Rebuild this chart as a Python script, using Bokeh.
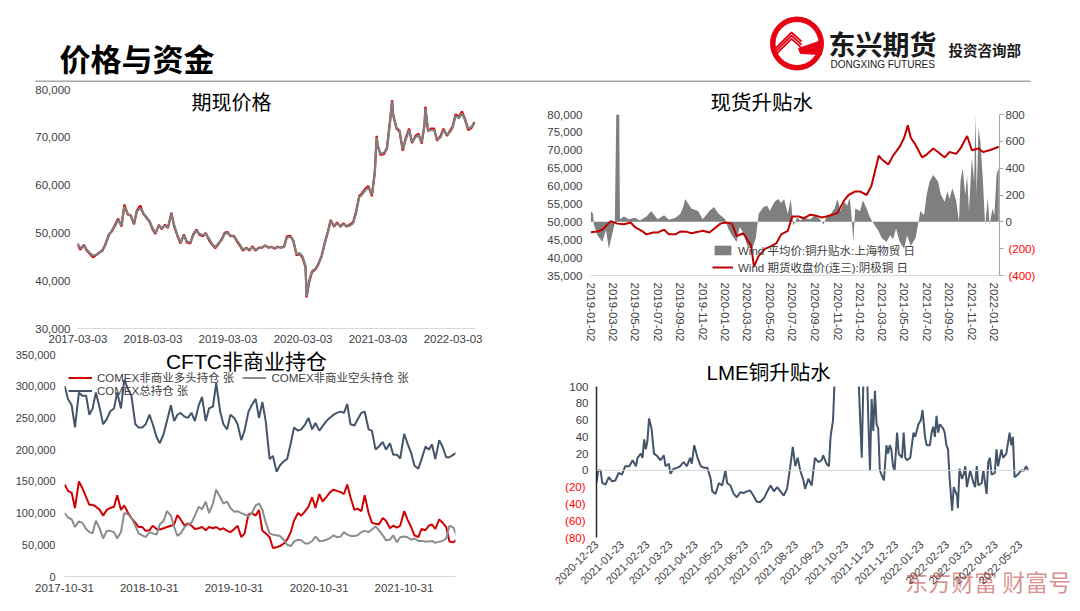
import pandas as pd
from bokeh.plotting import figure
from bokeh.layouts import column, row
from bokeh.models import (Range1d, FixedTicker, DatetimeTickFormatter, NumeralTickFormatter,
                          Label, Legend, LegendItem, LinearAxis, Span)
from bokeh.embed import file_html
from bokeh.resources import INLINE

NUM_FONT = "Liberation Sans, Noto Sans CJK SC"
CJK_FONT = "Noto Sans CJK SC"
TXT = "#404040"
NEG = "#FF0000"

# ---------------- data: 期现价格 (semi-monthly readings + extreme points) ----------------
tl_start = "2017-03-01"
tl_spot = [47800, 46800, 47300, 46500, 45800, 45200, 45500, 45800, 46500, 47500,
           49500, 50500, 51500, 52800, 51500, 55500, 54000, 53500, 52000, 54500,
           55200, 54200, 53000, 52500, 51000, 50000, 51500, 51000, 51500, 51200,
           54000, 51500, 49500, 48000, 49500, 48200, 48000, 49500, 50500, 49800,
           49500, 49800, 48800, 47800, 47000, 47800, 48500, 49800, 50000, 49500,
           49200, 48500, 47500, 46500, 46800, 46500, 47000, 46500, 46800, 47000,
           47300, 47000, 47000, 46800, 47000, 47000, 47000, 49000, 49200, 48500,
           45500, 45800, 45000, 43000, 40000, 42000, 42500, 43500, 45000, 47500,
           50000, 52500, 51500, 52000, 51500, 51800, 51500, 51500, 52000, 54000,
           57500, 58000, 59000, 59500, 58000, 62500, 68000, 66500, 66800, 67500,
           73500, 74500, 72000, 71500, 67500, 69500, 71500, 69000, 70000, 70500,
           69000, 72500, 71500, 71500, 71500, 69500, 70000, 71500, 70500, 71000,
           72000, 74500, 74000, 75000, 73500, 71800, 72200, 73000]
tl_fut = [47600, 46500, 47500, 46300, 45600, 44900, 45400, 45900, 46300, 47700,
          49700, 50300, 51800, 53000, 51300, 55900, 53800, 53700, 51800, 54700,
          55700, 54000, 53200, 52300, 50800, 49800, 51700, 50800, 51700, 51000,
          54200, 51300, 49300, 47800, 49700, 48000, 47800, 49700, 50700, 49600,
          49300, 50000, 48500, 47600, 46800, 47600, 48700, 50000, 50200, 49300,
          49400, 48300, 47300, 46300, 46900, 46300, 47200, 46300, 46900, 46900,
          47400, 46900, 47100, 46700, 47100, 46900, 47100, 49300, 49400, 48300,
          45300, 45600, 44700, 42800, 39600, 41800, 42300, 43300, 45200, 47700,
          50200, 52700, 51300, 52200, 51300, 52000, 51300, 51700, 52200, 54300,
          57700, 58300, 59300, 59800, 57700, 62800, 68300, 66300, 66500, 67800,
          73800, 74800, 71800, 71300, 67200, 69800, 71800, 68800, 70300, 70800,
          68700, 72800, 71300, 71800, 71800, 69300, 70300, 71800, 70300, 71300,
          72300, 74800, 74300, 75400, 73700, 71500, 72000, 73200]
tl_extra_dates = ["2020-03-20", "2021-02-24", "2021-05-10", "2021-10-19"]
tl_extra_spot = [36800, 70000, 77500, 76000]
tl_extra_fut = [36500, 70300, 77800, 76400]
tl_ticks = ["2017-03-03", "2018-03-03", "2019-03-03", "2020-03-03", "2021-03-03", "2022-03-03"]

# ---------------- data: 现货升贴水 ----------------
tr_fut = [("2019-01-02", 47100), ("2019-01-20", 47300), ("2019-02-02", 47800), ("2019-02-25", 50200),
          ("2019-03-15", 49500), ("2019-04-02", 49300), ("2019-04-20", 49800), ("2019-05-02", 48500),
          ("2019-05-20", 47500), ("2019-06-02", 46500), ("2019-06-20", 47000), ("2019-07-02", 47000),
          ("2019-07-20", 47800), ("2019-08-02", 46500), ("2019-08-20", 46500), ("2019-09-02", 47300),
          ("2019-09-20", 47200), ("2019-10-02", 46800), ("2019-10-20", 47200), ("2019-11-02", 47500),
          ("2019-11-20", 47000), ("2019-12-02", 48000), ("2019-12-20", 49500), ("2020-01-02", 49800),
          ("2020-01-20", 49500), ("2020-02-02", 46000), ("2020-02-20", 46800), ("2020-03-02", 45000),
          ("2020-03-12", 43500), ("2020-03-20", 37500), ("2020-04-02", 40500), ("2020-04-20", 42500),
          ("2020-05-02", 43000), ("2020-05-20", 44000), ("2020-06-02", 46500), ("2020-06-20", 47500),
          ("2020-07-02", 51500), ("2020-07-20", 51500), ("2020-08-02", 51000), ("2020-08-20", 52000),
          ("2020-09-02", 51800), ("2020-09-20", 51200), ("2020-10-02", 51500), ("2020-10-20", 52000),
          ("2020-11-02", 52500), ("2020-11-20", 56000), ("2020-12-02", 57500), ("2020-12-20", 58500),
          ("2021-01-02", 58500), ("2021-01-20", 57500), ("2021-02-02", 60000), ("2021-02-22", 68500),
          ("2021-03-02", 67500), ("2021-03-20", 66000), ("2021-04-02", 68500), ("2021-04-20", 71000),
          ("2021-05-02", 73500), ("2021-05-12", 77000), ("2021-05-20", 73500), ("2021-06-02", 71500),
          ("2021-06-20", 68000), ("2021-07-02", 68800), ("2021-07-20", 70500), ("2021-08-02", 69500),
          ("2021-08-20", 68000), ("2021-09-02", 69500), ("2021-09-20", 69000), ("2021-10-02", 70500),
          ("2021-10-20", 74000), ("2021-11-02", 70000), ("2021-11-20", 70500), ("2021-12-02", 69500),
          ("2021-12-20", 70000), ("2022-01-02", 70500), ("2022-01-14", 71000)]
tr_spread = [("2019-01-02", 80), ("2019-01-08", 60), ("2019-01-10", -20), ("2019-01-20", -100),
             ("2019-02-02", -150), ("2019-02-12", -60), ("2019-02-20", -200), ("2019-03-01", -90),
             ("2019-03-08", -10), ("2019-03-12", 800), ("2019-03-20", 800), ("2019-03-22", 20),
             ("2019-04-02", 40), ("2019-04-15", 20), ("2019-05-02", 30), ("2019-05-15", 10),
             ("2019-06-02", 40), ("2019-06-15", 80), ("2019-07-02", 20), ("2019-07-20", 50),
             ("2019-08-02", 15), ("2019-08-20", 30), ("2019-09-02", 60), ("2019-09-10", 110),
             ("2019-09-15", 170), ("2019-10-02", 100), ("2019-10-20", 80), ("2019-11-02", 20),
             ("2019-11-20", 80), ("2019-12-02", 110), ("2019-12-15", 60), ("2020-01-02", 20),
             ("2020-01-10", -50), ("2020-01-20", -100), ("2020-02-02", -150), ("2020-02-10", -40),
             ("2020-02-20", -80), ("2020-03-02", -180), ("2020-03-15", -200), ("2020-03-25", -120),
             ("2020-04-02", 60), ("2020-04-15", 110), ("2020-04-25", 120), ("2020-05-02", 80),
             ("2020-05-15", 150), ("2020-05-25", 170), ("2020-06-02", 140), ("2020-06-10", 170),
             ("2020-06-20", 60), ("2020-06-28", 170), ("2020-07-05", -30), ("2020-07-15", 30),
             ("2020-07-25", 10), ("2020-08-02", 30), ("2020-08-20", 20), ("2020-09-02", 50),
             ("2020-09-15", 20), ("2020-09-25", -20), ("2020-10-02", 30), ("2020-10-15", 60),
             ("2020-10-25", 100), ("2020-11-02", 170), ("2020-11-10", 80), ("2020-11-20", 150),
             ("2020-11-28", 120), ("2020-12-05", 180), ("2020-12-10", 50), ("2020-12-15", -150),
             ("2020-12-20", 100), ("2021-01-02", 80), ("2021-01-10", 160), ("2021-01-20", 100),
             ("2021-01-28", 40), ("2021-02-05", 0), ("2021-02-12", -30), ("2021-02-20", -60),
             ("2021-03-02", -120), ("2021-03-15", -150), ("2021-03-25", -100), ("2021-04-02", -130),
             ("2021-04-10", -50), ("2021-04-20", -150), ("2021-05-02", -200), ("2021-05-10", -100),
             ("2021-05-20", -180), ("2021-06-02", -120), ("2021-06-10", 0), ("2021-06-15", 80),
             ("2021-06-25", 50), ("2021-07-02", 200), ("2021-07-10", 300), ("2021-07-20", 350),
             ("2021-08-02", 300), ("2021-08-10", 200), ("2021-08-20", 150), ("2021-08-28", 230),
             ("2021-09-02", 170), ("2021-09-10", 250), ("2021-09-20", 160), ("2021-09-28", 0),
             ("2021-10-02", 300), ("2021-10-08", 400), ("2021-10-15", 200), ("2021-10-20", 350),
             ("2021-10-25", 80), ("2021-11-02", 480), ("2021-11-08", 300), ("2021-11-12", 800),
             ("2021-11-15", 200), ("2021-11-20", 700), ("2021-11-25", 600), ("2021-12-02", 300),
             ("2021-12-08", -30), ("2021-12-15", 180), ("2021-12-20", -20), ("2021-12-28", 100),
             ("2022-01-02", 50), ("2022-01-08", 350), ("2022-01-12", 390), ("2022-01-14", 400)]
tr_ticks = ["2019-01-02", "2019-03-02", "2019-05-02", "2019-07-02", "2019-09-02", "2019-11-02",
            "2020-01-02", "2020-03-02", "2020-05-02", "2020-07-02", "2020-09-02", "2020-11-02",
            "2021-01-02", "2021-03-02", "2021-05-02", "2021-07-02", "2021-09-02", "2021-11-02",
            "2022-01-02"]

# ---------------- data: CFTC非商业持仓 (semi-monthly readings) ----------------
cf_start = "2017-11-01"
cf_total = [300000, 280000, 270000, 235000, 290000, 285000, 285000, 255000, 265000, 290000,
            265000, 240000, 248000, 260000, 265000, 290000, 265000, 310000, 295000, 285000,
            240000, 235000, 235000, 240000, 255000, 240000, 220000, 210000, 225000, 245000,
            270000, 245000, 255000, 258000, 252000, 250000, 258000, 245000, 270000, 283000,
            245000, 265000, 268000, 305000, 260000, 240000, 232000, 255000, 250000, 240000,
            215000, 230000, 260000, 270000, 280000, 250000, 275000, 245000, 185000, 190000,
            165000, 175000, 182000, 185000, 210000, 235000, 230000, 232000, 240000, 250000,
            232000, 242000, 230000, 237000, 245000, 250000, 255000, 258000, 260000, 258000,
            272000, 240000, 238000, 248000, 258000, 260000, 232000, 230000, 200000, 205000,
            212000, 200000, 210000, 192000, 192000, 186000, 225000, 210000, 195000, 175000,
            170000, 185000, 205000, 200000, 208000, 185000, 215000, 205000, 188000, 188000,
            192000, 195000]
cf_long = [145000, 135000, 132000, 108000, 150000, 140000, 125000, 113000, 113000, 110000,
           105000, 96000, 105000, 108000, 110000, 128000, 105000, 112000, 100000, 92000,
           85000, 78000, 78000, 72000, 73000, 80000, 75000, 74000, 76000, 78000,
           80000, 82000, 97000, 90000, 80000, 84000, 80000, 75000, 76000, 78000,
           73000, 78000, 76000, 78000, 74000, 76000, 72000, 70000, 75000, 80000,
           62000, 68000, 98000, 100000, 96000, 105000, 72000, 68000, 62000, 45000,
           46000, 48000, 52000, 58000, 70000, 88000, 100000, 96000, 103000, 110000,
           125000, 108000, 130000, 118000, 125000, 132000, 137000, 135000, 133000, 130000,
           145000, 125000, 105000, 107000, 103000, 128000, 100000, 85000, 83000, 82000,
           92000, 88000, 76000, 80000, 77000, 80000, 103000, 90000, 78000, 65000,
           62000, 75000, 73000, 80000, 82000, 75000, 90000, 85000, 78000, 55000,
           54000, 58000]
cf_short = [100000, 93000, 90000, 78000, 87000, 85000, 75000, 70000, 68000, 88000,
            75000, 60000, 72000, 72000, 70000, 60000, 70000, 100000, 98000, 92000,
            80000, 68000, 65000, 62000, 70000, 68000, 66000, 82000, 88000, 103000,
            96000, 78000, 64000, 68000, 78000, 82000, 85000, 96000, 110000, 106000,
            118000, 100000, 115000, 137000, 125000, 115000, 118000, 108000, 102000, 103000,
            100000, 98000, 95000, 100000, 112000, 115000, 105000, 85000, 68000, 66000,
            65000, 64000, 58000, 50000, 48000, 55000, 58000, 57000, 52000, 52000,
            56000, 63000, 56000, 56000, 58000, 60000, 65000, 62000, 63000, 70000,
            66000, 64000, 64000, 65000, 70000, 72000, 70000, 74000, 79000, 73000,
            65000, 57000, 58000, 65000, 54000, 62000, 63000, 62000, 58000, 60000,
            56000, 56000, 55000, 55000, 56000, 53000, 55000, 56000, 60000, 80000,
            77000, 65000]
cf_ticks = ["2017-10-31", "2018-10-31", "2019-10-31", "2020-10-31", "2021-10-31"]

# ---------------- data: LME铜升贴水 (day offset from 2020-12-22, value) ----------------
lme_base = "2020-12-22"
lme_points = [(1, -15), (3, 0), (6, 0), (8, -15), (12, -17), (16, -8), (20, -13), (24, -12), (28, -3),
              (32, -5), (36, 5), (41, 5), (45, 12), (49, 5), (51, 15), (55, 20), (57, 15), (59, 37),
              (61, 25), (63, 35), (65, 62), (68, 50), (71, 20), (75, 17), (79, 12), (83, 18), (85, 5),
              (89, 8), (91, -4), (95, 2), (99, 3), (103, 5), (107, 10), (111, 5), (115, 15), (117, 8),
              (120, 30), (124, 15), (128, 5), (132, 3), (136, 3), (140, -10), (142, -25), (146, -28),
              (150, -15), (154, -18), (158, 0), (160, -15), (164, -18), (168, -28), (172, -32),
              (176, -26), (180, -27), (184, -25), (188, -24), (192, -30), (196, -37), (200, -38),
              (205, -33), (209, -25), (213, -18), (217, -25), (221, -20), (225, -25), (229, -30),
              (233, -22), (237, 5), (240, 28), (243, 5), (246, 15), (249, 0), (253, -12), (255, -22),
              (259, -10), (263, -18), (267, 15), (271, 10), (275, 12), (277, 18), (281, 8), (284, 5),
              (286, 40), (289, 60), (291, 110), (298, 180), (306, 400), (314, 250), (320, 110),
              (324, 15), (326, 110), (330, 130), (332, 60), (334, 0), (336, 85), (338, 47), (340, 95),
              (342, 55), (344, 50), (346, 0), (348, -5), (351, -12), (354, 30), (356, 20), (358, 30),
              (360, 25), (362, 5), (364, 0), (367, 45), (369, 20), (373, 15), (375, 45), (377, 15),
              (379, 12), (383, 15), (387, 45), (389, 40), (393, 55), (396, 60), (398, 72), (401, 40),
              (403, 30), (407, 30), (409, 45), (411, 52), (413, 40), (415, 65), (417, 45), (419, 55),
              (423, 50), (425, 45), (427, 30), (429, 25), (431, -10), (434, -48), (436, -20),
              (440, -30), (441, -45), (443, 2), (446, -10), (448, -5), (450, 5), (452, -20),
              (454, -10), (456, 0), (460, -15), (462, -20), (464, 5), (466, -18), (470, -15),
              (472, 0), (476, -28), (478, 10), (480, 15), (482, -5), (486, -3), (488, 25), (490, 5),
              (494, 25), (496, 15), (500, 20), (504, 45), (506, 30), (508, 40), (510, -8), (514, -5),
              (518, 0), (522, 0), (524, 5), (527, 0)]
lme_ticks = ["2020-12-23", "2021-01-23", "2021-02-23", "2021-03-23", "2021-04-23", "2021-05-23",
             "2021-06-23", "2021-07-23", "2021-08-23", "2021-09-23", "2021-10-23", "2021-11-23",
             "2021-12-23", "2022-01-23", "2022-02-23", "2022-03-23", "2022-04-23", "2022-05-23"]
watermark = "东方财富 财富号"


def ms(s):
    return pd.Timestamp(s).value / 1e6


def dfmt():
    f = "%Y-%m-%d"
    return DatetimeTickFormatter(milliseconds=f, seconds=f, minsec=f, minutes=f, hourmin=f,
                                 hours=f, days=f, months=f, years=f)


def base(w, h, xr, yr, l, r, t, b):
    p = figure(width=w, height=h, x_axis_type="datetime", x_range=xr, y_range=yr,
               output_backend="svg", toolbar_location=None,
               min_border_left=l, min_border_right=r, min_border_top=t, min_border_bottom=b)
    p.grid.visible = False
    p.outline_line_color = None
    p.background_fill_color = "white"
    p.border_fill_color = "white"
    if hasattr(p, "frame_align"):
        p.frame_align = False
    return p


def style_ax(ax, size="11.5px", color=TXT):
    ax.major_label_text_font = NUM_FONT
    ax.major_label_text_font_size = size
    ax.major_label_text_color = color
    ax.major_tick_line_color = None
    ax.minor_tick_line_color = None
    ax.major_tick_in = 0
    ax.major_tick_out = 0
    ax.minor_tick_in = 0
    ax.minor_tick_out = 0
    ax.axis_line_color = None


def inner_title(p, x, y, text, yoff, size="20px"):
    p.add_layout(Label(x=ms(x), y=y, y_offset=yoff, text=text, text_align="center",
                       text_baseline="middle", text_font=NUM_FONT, text_font_size=size,
                       text_color="#000000"))


def top_title(p, text, offset, standoff, size="20.5px"):
    p.title.text = text
    p.title.align = "left"
    p.title.offset = offset
    p.title.standoff = standoff
    p.title.text_font = NUM_FONT
    p.title.text_font_size = size
    p.title.text_font_style = "normal"
    p.title.text_color = "#000000"


# ---------------- header ----------------
hdr = figure(width=1080, height=82, x_range=Range1d(0, 1080), y_range=Range1d(82, 0),
             x_axis_type=None, y_axis_type=None, output_backend="svg", toolbar_location=None,
             min_border=0)
hdr.grid.visible = False
hdr.outline_line_color = None
hdr.add_layout(Label(x=59, y=57, text="价格与资金", text_font=CJK_FONT, text_font_size="31px",
                     text_font_style="bold", text_baseline="middle", text_color="#000000"))
hdr.line(x=[35, 1030], y=[81, 81], line_color="#a6a6a6", line_width=2)
hdr.annulus(x=[796.5], y=[43], inner_radius=22, outer_radius=26.5, color="#E60012")
for k in range(3):
    hdr.line(x=[774, 791, 801], y=[49 + 3.2 * k, 32 + 3.2 * k, 41 + 3.2 * k],
             line_color="#E60012", line_width=1.8)
hdr.patch(x=[798, 821, 821, 800], y=[48, 40, 54, 53], color="#E60012")
hdr.add_layout(Label(x=828, y=43, text="东兴期货", text_font=CJK_FONT, text_font_size="27px",
                     text_font_style="bold", text_baseline="middle", text_color="#1a1a1a"))
hdr.add_layout(Label(x=830, y=64, text="DONGXING FUTURES", text_font="Liberation Sans",
                     text_font_size="10px", text_baseline="middle", text_color="#1a1a1a"))
hdr.add_layout(Label(x=948, y=49, text="投资咨询部", text_font=CJK_FONT, text_font_size="14.5px",
                     text_font_style="bold", text_baseline="middle", text_color="#1a1a1a"))

# ---------------- 期现价格 ----------------
tl_df = pd.DataFrame({"date": list(pd.date_range(tl_start, periods=len(tl_spot), freq="SMS")),
                      "spot": tl_spot, "fut": tl_fut})
tl_df = pd.concat([tl_df, pd.DataFrame({"date": pd.to_datetime(tl_extra_dates),
                                        "spot": tl_extra_spot, "fut": tl_extra_fut})])
tl_df = tl_df.sort_values("date")
tl = base(530, 266, Range1d(ms("2017-03-01"), ms("2022-06-20")), Range1d(30000, 80000), 77, 55, 7, 20)
tl.line(tl_df["date"], tl_df["fut"], line_color="#E00000", line_width=2.2)
tl.line(tl_df["date"], tl_df["spot"], line_color="#7F7F7F", line_width=2.2)
style_ax(tl.xaxis[0])
style_ax(tl.yaxis[0])
tl.xaxis.axis_line_color = "#d9d9d9"
tl.xaxis.ticker = FixedTicker(ticks=[ms(d) for d in tl_ticks])
tl.xaxis.formatter = dfmt()
tl.xaxis.major_label_standoff = 6
tl.yaxis.ticker = FixedTicker(ticks=[30000, 40000, 50000, 60000, 70000, 80000])
tl.yaxis.formatter = NumeralTickFormatter(format="0,0")
tl.yaxis.major_label_standoff = 7
inner_title(tl, "2019-03-20", 80000, "期现价格", -13.5)

# ---------------- 现货升贴水 ----------------
trf = pd.DataFrame(tr_fut, columns=["date", "v"])
trf["date"] = pd.to_datetime(trf["date"])
trs = pd.DataFrame(tr_spread, columns=["date", "v"])
trs["date"] = pd.to_datetime(trs["date"])
tr = base(550, 266, Range1d(ms("2019-01-01"), ms("2022-01-16")), Range1d(35000, 80000), 60, 81, 32, 73)
tr.extra_y_ranges = {"sp": Range1d(-400, 800)}
area = tr.varea(x=trs["date"], y1=0, y2=trs["v"], y_range_name="sp", fill_color="#7F7F7F")
rline = tr.line(trf["date"], trf["v"], line_color="#C00000", line_width=2)
style_ax(tr.xaxis[0], "11.5px")
style_ax(tr.left[0])
tr.xaxis.axis_line_color = "#d9d9d9"
tr.xaxis.ticker = FixedTicker(ticks=[ms(d) for d in tr_ticks])
tr.xaxis.formatter = dfmt()
tr.xaxis.major_label_orientation = "vertical"
tr.xaxis.major_label_standoff = 7
tr.left[0].ticker = FixedTicker(ticks=list(range(35000, 80001, 5000)))
tr.left[0].formatter = NumeralTickFormatter(format="0,0")
tr.left[0].major_label_standoff = 8
# right axis: positive labels dark, negative labels red on an overlaid second axis
ra = LinearAxis(y_range_name="sp", ticker=FixedTicker(ticks=[-400, -200, 0, 200, 400, 600, 800]),
                major_label_overrides={-400: "", -200: ""})
style_ax(ra)
ra.axis_line_color = "#a6a6a6"
ra.major_tick_line_color = "#a6a6a6"
ra.major_tick_out = 4
ra.major_label_standoff = 2
tr.add_layout(ra, "right")
ra2 = LinearAxis(y_range_name="sp", ticker=FixedTicker(ticks=[-400, -200]),
                 major_label_overrides={-400: "(400)", -200: "(200)"})
style_ax(ra2, color=NEG)
ra2.major_label_standoff = -19
tr.add_layout(ra2, "right")
tr_leg = Legend(items=[LegendItem(label="Wind 平均价:铜升贴水:上海物贸 日", renderers=[area]),
                       LegendItem(label="Wind 期货收盘价(连三):阴极铜 日", renderers=[rline])],
                location=(122, 0), orientation="vertical", label_text_font=NUM_FONT,
                label_text_font_size="11.5px", label_text_color=TXT, glyph_width=21, glyph_height=12,
                label_height=12, spacing=1, padding=0, margin=0, label_standoff=5,
                background_fill_alpha=0, border_line_alpha=0)
tr.add_layout(tr_leg)
top_title(tr, "现货升贴水", 120, 2)

# ---------------- CFTC非商业持仓 ----------------
cf_dates = list(pd.date_range(cf_start, periods=len(cf_total), freq="SMS"))
bl = base(530, 263, Range1d(ms("2017-10-31"), ms("2022-06-10")), Range1d(0, 356300), 64, 75, 2, 35)
l_long = bl.line(cf_dates[:len(cf_long)], cf_long, line_color="#D00000", line_width=2)
l_short = bl.line(cf_dates[:len(cf_short)], cf_short, line_color="#8C8C8C", line_width=2)
l_total = bl.line(cf_dates, cf_total, line_color="#44546A", line_width=2)
style_ax(bl.xaxis[0])
style_ax(bl.yaxis[0], "11px")
bl.xaxis.axis_line_color = "#d9d9d9"
bl.xaxis.ticker = FixedTicker(ticks=[ms(d) for d in cf_ticks])
bl.xaxis.formatter = dfmt()
bl.xaxis.major_label_standoff = 7
bl.yaxis.ticker = FixedTicker(ticks=list(range(0, 350001, 50000)))
bl.yaxis.formatter = NumeralTickFormatter(format="0,0")
bl.yaxis.major_label_standoff = 9
leg_kw = dict(label_text_font=NUM_FONT, label_text_font_size="11.5px", label_text_color=TXT,
              glyph_width=24, glyph_height=13, label_height=13, padding=0, margin=0,
              label_standoff=5, background_fill_alpha=0, border_line_alpha=0)
bl.add_layout(Legend(items=[LegendItem(label="COMEX非商业多头持仓 张", renderers=[l_long]),
                            LegendItem(label="COMEX非商业空头持仓 张", renderers=[l_short])],
                     location=(4, 191), orientation="horizontal", spacing=8, **leg_kw))
bl.add_layout(Legend(items=[LegendItem(label="COMEX总持仓 张", renderers=[l_total])],
                     location=(4, 178), orientation="horizontal", **leg_kw))
inner_title(bl, "2019-12-23", 350000, "CFTC非商业持仓", -7, "21px")

# ---------------- LME铜升贴水 ----------------
lme = pd.DataFrame(lme_points, columns=["d", "v"])
lme["date"] = pd.Timestamp(lme_base) + pd.to_timedelta(lme["d"], unit="D")
br = base(550, 263, Range1d(ms("2020-12-23"), ms("2022-06-02")), Range1d(-80, 100), 66, 52, 38, 74)
br.add_layout(Span(location=0, dimension="width", line_color="#d9d9d9", line_width=1))
br.line(lme["date"], lme["v"], line_color="#44546A", line_width=2)
style_ax(br.xaxis[0], "11px")
style_ax(br.yaxis[0])
br.yaxis.axis_line_color = "#262626"
br.yaxis.axis_line_width = 1.5
br.yaxis.ticker = FixedTicker(ticks=[0, 20, 40, 60, 80, 100])
br.yaxis.major_label_standoff = 8
la2 = LinearAxis(ticker=FixedTicker(ticks=[-80, -60, -40, -20]),
                 major_label_overrides={-80: "(80)", -60: "(60)", -40: "(40)", -20: "(20)"})
style_ax(la2, color=NEG)
la2.major_label_standoff = -19
br.add_layout(la2, "left")
br.xaxis.ticker = FixedTicker(ticks=[ms(d) for d in lme_ticks])
br.xaxis.formatter = dfmt()
br.xaxis.major_label_orientation = 0.785398
br.xaxis.major_label_standoff = 5
top_title(br, "LME铜升贴水", 110, 6)
# watermark drawn as an overlapping secondary bottom axis label
wm_tick = int(ms("2022-04-14"))
wax = LinearAxis(ticker=FixedTicker(ticks=[wm_tick]), major_label_overrides={wm_tick: watermark})
style_ax(wax, size="23px", color="#B22222")
wax.major_label_text_font = CJK_FONT
wax.major_label_text_alpha = 0.5
wax.major_label_standoff = -27
br.add_layout(wax, "below")

layout = column(hdr, row(tl, tr), row(bl, br))
open("out.html", "w").write(file_html(layout, INLINE))
